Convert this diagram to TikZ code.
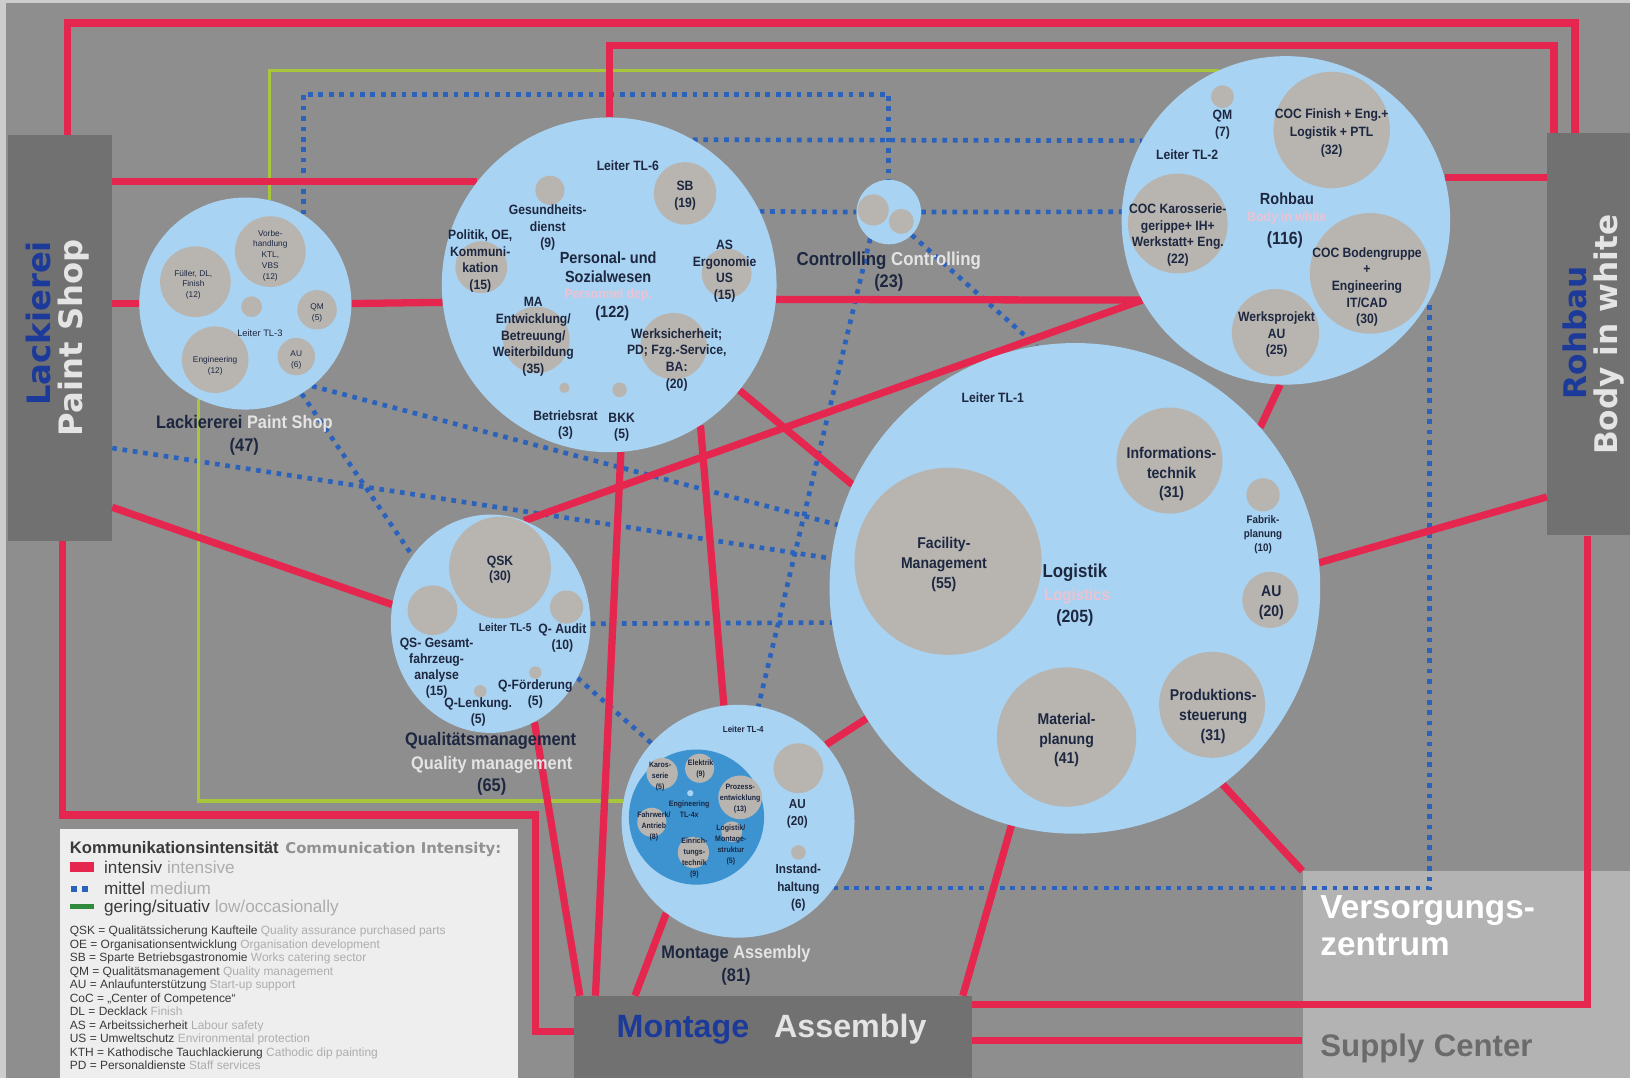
\documentclass[tikz,border=0pt]{standalone}
\usepackage{fontspec}
\usetikzlibrary{shapes.geometric}
\setmainfont{Liberation Sans}
\newfontfamily\cond[FakeStretch=0.9]{Liberation Sans}
\newfontfamily\wide{DejaVu Sans}
\newcommand\fsz[2]{\fontsize{#1}{#2}\selectfont}

\definecolor{edgegray}{HTML}{CDCDCD}
\definecolor{bggray}{HTML}{8E8E8E}
\definecolor{bandgray}{HTML}{717171}
\definecolor{supgray}{HTML}{B3B3B3}
\definecolor{cblue}{HTML}{A9D3F2}
\definecolor{cdeep}{HTML}{3D93D0}
\definecolor{cgray}{HTML}{B8B5B1}
\definecolor{lred}{HTML}{E5264F}
\definecolor{lblue}{HTML}{2B62BC}
\definecolor{lgreen}{HTML}{A8C63C}
\definecolor{tdark}{HTML}{1D2740}
\definecolor{tblue}{HTML}{1C3A9A}
\definecolor{tpink}{HTML}{EEC2D2}
\definecolor{tlight}{HTML}{E4E4E4}
\definecolor{legbg}{HTML}{EEEEEE}
\definecolor{leggray}{HTML}{ADADAD}
\definecolor{leghead}{HTML}{929292}
\definecolor{legdark}{HTML}{3A3A3A}
\definecolor{leggreen}{HTML}{2F8A3C}
\definecolor{supply}{HTML}{6B6B6B}

\pgfdeclarelayer{back}
\pgfdeclarelayer{lines}
\pgfsetlayers{back,lines,main}

\tikzset{
  unit/.style={circle, fill=cblue, inner sep=0pt},
  team/.style={circle, fill=cgray, inner sep=0pt},
  band/.style={rectangle, fill=bandgray, inner sep=0pt},
  redl/.style={draw=lred, line width=7pt},
  bluel/.style={draw=lblue, line width=4.5pt, dash pattern=on 4.5pt off 5.5pt},
  greenl/.style={draw=lgreen, line width=3pt},
  lbl/.style={align=center, inner sep=0pt, text=tdark, font=\cond\bfseries\fsz{13}{16}},
  sublbl/.style={lbl, font=\cond\bfseries\fsz{15}{19}},
  tiny/.style={lbl, font=\cond\bfseries\fsz{7.5}{10.5}},
  small/.style={lbl, font=\fsz{8}{10.5}},
  title/.style={lbl, font=\cond\bfseries\fsz{17.5}{20}},
  abbr/.style={anchor=base west, inner sep=0pt, text=legdark, font=\fsz{11.5}{13}},
}

\begin{document}
\begin{tikzpicture}[x=1pt,y=-1pt]
\useasboundingbox (0,0) rectangle (1568,1037);

% ---------- ground, side bands, supply centre ----------
\begin{pgfonlayer}{back}
  \fill[edgegray] (0,0) rectangle (1568,1037);
  \fill[bggray] (6,3) rectangle (1568,1037);
  \node[band, minimum width=100pt, minimum height=390pt] (lackB) at (58,325) {};
  \node[band, minimum width=80pt, minimum height=387pt] (rohbB) at (1528,321.5) {};
  \node[band, minimum width=383pt, minimum height=79pt] (montB) at (743.5,997.5) {};
  \node[rectangle, fill=supgray, inner sep=0pt, minimum width=315pt, minimum height=199pt] (versB) at (1410.5,937.5) {};
\end{pgfonlayer}

% ---------- departments ----------
\node[unit, minimum size=204pt] (lack) at (236,292) {};
\node[unit, minimum size=322pt] (pers) at (586,274) {};
\node[unit, minimum size=62pt] (ctrl) at (855,204) {};
\node[unit, minimum size=316pt] (rohb) at (1237,212) {};
\node[unit, minimum size=472pt] (logi) at (1034,566) {};
\node[ellipse, fill=cblue, inner sep=0pt, minimum width=192pt, minimum height=210pt] (qual) at (472,600) {};
\node[unit, minimum size=224pt] (mont) at (710,790) {};

% teams: paint shop
\node[team, minimum size=68pt] (kFuC) at (188,271) {};
\node[team, minimum size=68pt] (kVoC) at (260,242) {};
\node[team, minimum size=20pt] (kDot) at (242,295) {};
\node[team, minimum size=38pt] (kQMC) at (305,298) {};
\node[team, minimum size=64pt] (kEnC) at (207,346) {};
\node[team, minimum size=36pt] (kAUC) at (285,343) {};
% teams: personnel
\node[team, minimum size=60pt] (pSBC) at (659,186) {};
\node[team, minimum size=28pt] (pGesC) at (529,183) {};
\node[team, minimum size=50pt] (pPolC) at (463,257) {};
\node[team, minimum size=48pt] (pASC) at (699,263) {};
\node[team, minimum size=64pt] (pMAC) at (516,327) {};
\node[team, minimum size=64pt] (pWSC) at (648,333) {};
\node[team, minimum size=10pt] (pBRC) at (543,373) {};
\node[team, minimum size=14pt] (pBKKC) at (596,375) {};
% teams: controlling
\node[team, minimum size=30pt] (cT1) at (840,202) {};
\node[team, minimum size=24pt] (cT2) at (867,213) {};
% teams: body in white
\node[team, minimum size=22pt] (rQMC) at (1176,93) {};
\node[team, minimum size=112pt] (rFinC) at (1281,125) {};
\node[team, minimum size=96pt] (rKarC) at (1133,215) {};
\node[team, minimum size=116pt] (rBodC) at (1318,263) {};
\node[team, minimum size=84pt] (rWPC) at (1227,320) {};
% teams: logistics
\node[team, minimum size=180pt] (lFMC) at (912,540) {};
\node[team, minimum size=102pt] (lITC) at (1125,443) {};
\node[team, minimum size=32pt] (lFPC) at (1215,476) {};
\node[team, minimum size=54pt] (lAUC) at (1222,577) {};
\node[team, minimum size=134pt] (lMPC) at (1026,709) {};
\node[team, minimum size=102pt] (lPSC) at (1166,678) {};
% teams: quality
\node[team, minimum size=98pt] (qQSKC) at (481,546) {};
\node[team, minimum size=48pt] (qGesC) at (416,587) {};
\node[team, minimum size=32pt] (qAudC) at (545,584) {};
\node[team, minimum size=12pt] (qFoeC) at (515,647) {};
\node[team, minimum size=12pt] (qLenC) at (462,665) {};
% teams: assembly
\node[circle, fill=cdeep, inner sep=0pt, minimum size=130pt] (mDeep) at (670,786) {};
\node[team, minimum size=30pt] (mKarC) at (637,744) {};
\node[team, minimum size=28pt] (mElC) at (673,739) {};
\node[team, minimum size=42pt] (mProC) at (712,767) {};
\node[circle, fill=cblue, inner sep=0pt, minimum size=6pt] (mDot) at (664,763) {};
\node[team, minimum size=28pt] (mFaC) at (627,791) {};
\node[team, minimum size=30pt] (mEinC) at (667,820) {};
\node[team, minimum size=20pt] (mLogC) at (704,800) {};
\node[team, minimum size=48pt] (mAUC) at (768,739) {};
\node[team, minimum size=14pt] (mIHC) at (768,820) {};

% ---------- legend panel ----------
\node[rectangle, fill=legbg, inner sep=0pt, minimum width=440pt, minimum height=240pt] (legend) at (278,917) {};

% ---------- connectors ----------
\coordinate (r1a) at (65,22);
\coordinate (r1b) at (1515,22);
\coordinate (r2) at (1495,44);
\coordinate (r8) at (1488,478);
\coordinate (r10) at (108,488);
\coordinate (r11a) at (60,784);
\coordinate (r11b) at (515,784);
\coordinate (r11c) at (515,992);
\coordinate (r16) at (1527,966);
\coordinate (r17) at (1000,1001);
\coordinate (b1) at (855,91);
\coordinate (b7) at (108,431);

\begin{pgfonlayer}{lines}
  % medium
  \draw[bluel] (lack.57) |- (b1) -- (ctrl.north);
  \draw[bluel] (pers.60) -- (rohb.151);
  \draw[bluel] (pers.26) -- (ctrl.west);
  \draw[bluel] (ctrl.east) -- (rohb.177);
  \draw[bluel] (ctrl.-45) -- (logi.99);
  \draw[bluel] (ctrl.235) -- (mont.80);
  \draw[bluel] (lack.-51) -- (logi.165);
  \draw[bluel] (b7) -- (logi.173);
  \draw[bluel] (lack.-58) -- (qual.139);
  \draw[bluel] (qual.-32) -- (mont.138);
  \draw[bluel] (qual.east) -- (logi.188);
  \draw[bluel] (mont.-35) -| (rohb.-29);
  % low
  \draw[greenl] (lack.77) |- (rohb.114);
  \draw[greenl] (lack.244) |- (mont.170);
  % intensive
  \draw[redl] (lackB.north -| r1a) -- (r1a) -- (r1b) -- (rohbB.north -| r1b);
  \draw[redl] (pers.north) |- (r2) -- (rohbB.north -| r2);
  \draw[redl] (pers.142) -- (pers.142 -| lackB.east);
  \draw[redl] (lackB.east |- lack.west) -- (lack.west);
  \draw[redl] (lack.east) -- (pers.186);
  \draw[redl] (pers.-5) -- (rohb.209);
  \draw[redl] (rohb.209) -- (qual.72);
  \draw[redl] (rohb.15) -- (rohb.15 -| rohbB.west);
  \draw[redl] (rohb.268) -- (logi.41);
  \draw[redl] (logi.6) -- (r8);
  \draw[redl] (pers.-39) -- (logi.155);
  \draw[redl] (r10) -- (qual.169);
  \draw[redl] (lackB.south -| r11a) -- (r11a) -- (r11b) -- (r11c) -- (montB.west |- r11c);
  \draw[redl] (qual.-66) -- ([xshift=6pt]montB.north west);
  \draw[redl] (pers.-86) -- ([xshift=21pt]montB.north west);
  \draw[redl] (pers.-57) -- (mont.97);
  \draw[redl] (mont.232) -- ([xshift=59pt]montB.north west);
  \draw[redl] (mont.41) -- (logi.212);
  \draw[redl] (logi.255) -- ([xshift=-9pt]montB.north east);
  \draw[redl] (logi.-53) -- (versB.north west);
  \draw[redl] (rohbB.south -| r16) -- (r16) -- (montB.east |- r16);
  \draw[redl] (montB.east |- r17) -- (versB.west |- r17);
\end{pgfonlayer}

% ---------- band titles ----------
\node[rotate=90, inner sep=0pt, text=tblue, font=\wide\bfseries\fsz{31}{31}] (lackT1) at (37,311) {Lackierei};
\node[rotate=90, inner sep=0pt, text=tlight, font=\wide\bfseries\fsz{31}{31}] (lackT2) at (71,325) {Paint Shop};
\node[rotate=90, inner sep=0pt, text=tblue, font=\wide\bfseries\fsz{30}{30}] (rohbT1) at (1515,320) {Rohbau};
\node[rotate=90, inner sep=0pt, text=tlight, font=\wide\bfseries\fsz{30}{30}] (rohbT2) at (1548,322) {Body in white};
\node[anchor=base, inner sep=0pt, text=tblue, font=\bfseries\fsz{31}{31}] (montT1) at (657,998) {Montage};
\node[anchor=base, inner sep=0pt, text=tlight, font=\bfseries\fsz{31}{31}] (montT2) at (818,998) {Assembly};
\node[anchor=base west, inner sep=0pt, text=white, font=\bfseries\fsz{32}{32}] (versT1) at (1270,884) {Versorgungs-};
\node[anchor=base west, inner sep=0pt, text=white, font=\bfseries\fsz{32}{32}] (versT2) at (1270,919) {zentrum};
\node[anchor=base west, inner sep=0pt, text=supply, font=\bfseries\fsz{30}{30}] (versT3) at (1270,1016) {Supply\hspace{9pt}Center};

% ---------- paint shop texts ----------
\node[small] (kFu) at (186,274) {Füller, DL,\\Finish\\(12)};
\node[small] (kVo) at (260,246) {Vorbe-\\handlung\\KTL,\\VBS\\(12)};
\node[small] (kQM) at (305,301) {QM\\(5)};
\node[small] (kEn) at (207,352) {Engineering\\(12)};
\node[small] (kAU) at (285,346) {AU\\(6)};
\node[small, font=\fsz{9}{11}] (kLeiter) at (250,320) {Leiter TL-3};
\node[title] (kName) at (235,408) {Lackiererei \textcolor{tlight}{Paint Shop}};
\node[title] (kNum) at (235,430) {(47)};

% ---------- personnel texts ----------
\node[lbl] (pLeiter) at (604,159) {Leiter TL-6};
\node[lbl] (pSB) at (659,188) {SB\\(19)};
\node[lbl] (pGes) at (527,219) {Gesundheits-\\dienst\\(9)};
\node[lbl] (pPol) at (462,251) {Politik, OE,\\Kommuni-\\kation\\(15)};
\node[lbl] (pAS) at (697,261) {AS\\Ergonomie\\US\\(15)};
\node[lbl] (pMA) at (513,324) {MA\\Entwicklung/\\Betreuung/\\Weiterbildung\\(35)};
\node[lbl] (pWS) at (651,346) {Werksicherheit;\\PD; Fzg.-Service,\\BA:\\(20)};
\node[lbl] (pBR) at (544,409) {Betriebsrat\\(3)};
\node[lbl] (pBKK) at (598,411) {BKK\\(5)};
\node[lbl, font=\cond\bfseries\fsz{15.5}{19}] (pName) at (585,257) {Personal- und\\Sozialwesen};
\node[lbl, text=tpink] (pEng) at (585,284) {Personnel dep.};
\node[lbl, font=\cond\bfseries\fsz{15.5}{19}] (pNum) at (589,301) {(122)};

% ---------- controlling texts ----------
\node[title, font=\cond\bfseries\fsz{18}{20}] (cName) at (855,251) {Controlling \textcolor{tlight}{Controlling}};
\node[title] (cNum) at (855,272) {(23)};

% ---------- body in white texts ----------
\node[lbl] (rQM) at (1176,120) {QM\\(7)};
\node[lbl] (rLeiter) at (1142,149) {Leiter TL-2};
\node[lbl, font=\cond\bfseries\fsz{13}{17}] (rFin) at (1281,128) {COC Finish + Eng.+\\Logistik + PTL\\(32)};
\node[lbl] (rKar) at (1133,226) {COC Karosserie-\\gerippe+ IH+\\Werkstatt+ Eng.\\(22)};
\node[lbl] (rBod) at (1315,276) {COC Bodengruppe\\+\\Engineering\\IT/CAD\\(30)};
\node[lbl] (rWP) at (1228,322) {Werksprojekt\\AU\\(25)};
\node[lbl, font=\cond\bfseries\fsz{15.5}{19}] (rName) at (1238,191) {Rohbau};
\node[lbl, text=tpink] (rEng) at (1238,210) {Body in white};
\node[lbl, font=\cond\bfseries\fsz{17}{19}] (rNum) at (1236,231) {(116)};

% ---------- logistics texts ----------
\node[lbl] (lLeiter) at (955,383) {Leiter TL-1};
\node[sublbl] (lFM) at (908,543) {Facility-\\Management\\(55)};
\node[sublbl] (lIT) at (1127,456) {Informations-\\technik\\(31)};
\node[lbl, font=\cond\bfseries\fsz{10.5}{13.5}] (lFP) at (1215,514) {Fabrik-\\planung\\(10)};
\node[sublbl] (lAU) at (1223,580) {AU\\(20)};
\node[sublbl] (lMP) at (1026,712) {Material-\\planung\\(41)};
\node[sublbl] (lPS) at (1167,689) {Produktions-\\steuerung\\(31)};
\node[lbl, font=\cond\bfseries\fsz{18}{20}] (lName) at (1034,551) {Logistik};
\node[lbl, text=tpink, font=\cond\bfseries\fsz{16}{18}] (lEng) at (1036,574) {Logistics};
\node[lbl, font=\cond\bfseries\fsz{17}{19}] (lNum) at (1034,594) {(205)};

% ---------- quality texts ----------
\node[lbl, font=\cond\bfseries\fsz{13}{15.3}] (qQSK) at (481,548) {QSK\\(30)};
\node[lbl, font=\cond\bfseries\fsz{11}{13}] (qLeiter) at (486,604) {Leiter TL-5};
\node[lbl, font=\cond\bfseries\fsz{13}{15.3}] (qAud) at (541,614) {Q- Audit\\(10)};
\node[lbl, font=\cond\bfseries\fsz{13}{15.3}] (qGes) at (420,643) {QS- Gesamt-\\fahrzeug-\\analyse\\(15)};
\node[lbl, font=\cond\bfseries\fsz{13}{15.3}] (qFoe) at (515,668) {Q-Förderung\\(5)};
\node[lbl, font=\cond\bfseries\fsz{13}{15.3}] (qLen) at (460,685) {Q-Lenkung.\\(5)};
\node[title] (qName) at (472,713) {Qualitätsmanagement};
\node[title, text=tlight] (qEng) at (473,736) {Quality management};
\node[title] (qNum) at (473,757) {(65)};

% ---------- assembly texts ----------
\node[lbl, font=\cond\bfseries\fsz{8.5}{10}] (mLeiter) at (715,702) {Leiter TL-4};
\node[tiny] (mKar) at (635,747) {Karos-\\serie\\(5)};
\node[tiny] (mEl) at (674,740) {Elektrik\\(9)};
\node[tiny] (mPro) at (712,768) {Prozess-\\entwicklung\\(13)};
\node[tiny] (mEng) at (663,778) {Engineering\\TL-4x};
\node[tiny] (mFa) at (629,795) {Fahrwerk/\\Antrieb\\(8)};
\node[tiny] (mEin) at (668,825) {Einrich-\\tungs-\\technik\\(9)};
\node[tiny] (mLog) at (703,813) {Logistik/\\Montage-\\struktur\\(5)};
\node[lbl, font=\cond\bfseries\fsz{12.5}{17}] (mAU) at (767,783) {AU\\(20)};
\node[lbl, font=\cond\bfseries\fsz{12.5}{17}] (mIH) at (768,854) {Instand-\\haltung\\(6)};
\node[title] (mName) at (708,918) {Montage \textcolor{tlight}{Assembly}};
\node[title] (mNum) at (708,940) {(81)};

% ---------- legend ----------
\node[anchor=base west, inner sep=0pt, text=legdark, font=\bfseries\fsz{16}{16}] (legHead) at (67,821) {Kommunikationsintensität};
\node[anchor=base west, inner sep=0pt, text=leghead, font=\wide\bfseries\fsz{14.3}{16}] (legHeadE) at ([xshift=6pt]legHead.base east) {Communication Intensity:};
\node[rectangle, fill=lred, inner sep=0pt, minimum width=23pt, minimum height=10pt] (swRed) at (78.5,834) {};
\node[rectangle, fill=lblue, inner sep=0pt, minimum size=6pt] (swBlue1) at (71,855) {};
\node[rectangle, fill=lblue, inner sep=0pt, minimum size=6pt] (swBlue2) at (82,855) {};
\node[rectangle, fill=leggreen, inner sep=0pt, minimum width=23pt, minimum height=4pt] (swGreen) at (78.5,872) {};
\node[anchor=base west, inner sep=0pt, text=legdark, font=\fsz{16.5}{16}] (legRed) at (100,840) {intensiv \textcolor{leggray}{intensive}};
\node[anchor=base west, inner sep=0pt, text=legdark, font=\fsz{16.5}{16}] (legBlue) at (100,860) {mittel \textcolor{leggray}{medium}};
\node[anchor=base west, inner sep=0pt, text=legdark, font=\fsz{16.5}{16}] (legGreen) at (100,878) {gering/situativ \textcolor{leggray}{low/occasionally}};
\node[abbr] (ab1) at (67,899) {QSK = Qualitätssicherung Kaufteile \textcolor{leggray}{Quality assurance purchased parts}};
\node[abbr] (ab2) at (67,912) {OE = Organisationsentwicklung \textcolor{leggray}{Organisation development}};
\node[abbr] (ab3) at (67,925) {SB = Sparte Betriebsgastronomie \textcolor{leggray}{Works catering sector}};
\node[abbr] (ab4) at (67,938) {QM = Qualitätsmanagement \textcolor{leggray}{Quality management}};
\node[abbr] (ab5) at (67,951) {AU = Anlaufunterstützung \textcolor{leggray}{Start-up support}};
\node[abbr] (ab6) at (67,964) {CoC = „Center of Competence“};
\node[abbr] (ab7) at (67,977) {DL = Decklack \textcolor{leggray}{Finish}};
\node[abbr] (ab8) at (67,990) {AS = Arbeitssicherheit \textcolor{leggray}{Labour safety}};
\node[abbr] (ab9) at (67,1003) {US = Umweltschutz \textcolor{leggray}{Environmental protection}};
\node[abbr] (ab10) at (67,1016) {KTH = Kathodische Tauchlackierung \textcolor{leggray}{Cathodic dip painting}};
\node[abbr] (ab11) at (67,1029) {PD = Personaldienste \textcolor{leggray}{Staff services}};
\end{tikzpicture}
\end{document}
